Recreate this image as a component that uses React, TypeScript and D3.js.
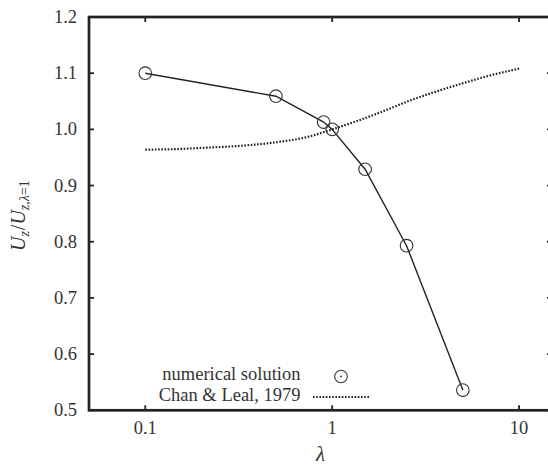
import React from "react";
import * as d3 from "d3";

// Numerical solution: normalised rise velocity vs viscosity ratio
const lambdaNum = [0.1, 0.5, 0.9, 1.0, 1.5, 2.5, 5];
const uNum = [1.1, 1.059, 1.013, 1.0, 0.929, 0.793, 0.536];

// Chan & Leal (1979) small-deformation theory
const lambdaChan = [0.1, 0.15, 0.2, 0.3, 0.5, 0.75, 1, 1.5, 2, 2.5, 3.5, 5, 7, 10];
const uChan = [0.964, 0.965, 0.967, 0.97, 0.977, 0.987, 1.0, 1.02, 1.036, 1.049, 1.066, 1.082, 1.096, 1.108];

const xTicks = [0.1, 1, 10];
const xTickLabels = ["0.1", "1", "10"];
const yTicks = [0.5, 0.6, 0.7, 0.8, 0.9, 1.0, 1.1, 1.2];

const W = 548;
const H = 466;
const left = 89;
const right = 552;
const top = 17;
const bottom = 410.3;

const FONT = "Liberation Serif";
const INK = "#222";
const TEXT = "#333";
const FS = 18.5;
const LEGEND_FS = 18.5;

const txt: React.CSSProperties = { fontFamily: FONT };

export default function App() {
  const x = d3.scaleLog().domain([0.05, 15]).range([left, right]);
  const y = d3.scaleLinear().domain([0.5, 1.2]).range([bottom, top]);

  const numLine = d3
    .line<number>()
    .x((_, i) => x(lambdaNum[i]))
    .y((d) => y(d));
  const chanLine = d3
    .line<number>()
    .x((_, i) => x(lambdaChan[i]))
    .y((d) => y(d))
    .curve(d3.curveMonotoneX);

  const tickLen = 5;
  const r = 6.3;

  return (
    <svg
      width={W}
      height={H}
      style={{ position: "absolute", left: 0, top: 0, background: "#fff" }}
    >
      <defs>
        <clipPath id="plotArea">
          <rect x={left} y={top} width={right - left} height={bottom - top} />
        </clipPath>
      </defs>

      {/* ticks on all four sides, pointing inward */}
      {xTicks.map((t) => (
        <g key={"xt" + t} stroke={INK} strokeWidth={1.8}>
          <line x1={x(t)} x2={x(t)} y1={bottom} y2={bottom - tickLen} />
          <line x1={x(t)} x2={x(t)} y1={top} y2={top + tickLen} />
        </g>
      ))}
      {yTicks.map((t) => (
        <g key={"yt" + t} stroke={INK} strokeWidth={1.8}>
          <line x1={left} x2={left + tickLen} y1={y(t)} y2={y(t)} />
          <line x1={right} x2={right - tickLen} y1={y(t)} y2={y(t)} />
        </g>
      ))}

      {/* tick labels */}
      {xTicks.map((t, i) => (
        <text
          key={"xl" + t}
          x={x(t)}
          y={434}
          textAnchor="middle"
          fontSize={FS}
          fill={TEXT}
          style={txt}
        >
          {xTickLabels[i]}
        </text>
      ))}
      {yTicks.map((t) => (
        <text
          key={"yl" + t}
          x={77}
          y={y(t) + 6}
          textAnchor="end"
          fontSize={FS}
          fill={TEXT}
          style={txt}
        >
          {t.toFixed(1)}
        </text>
      ))}

      {/* axis titles */}
      <text
        x={(left + right) / 2}
        y={461}
        textAnchor="middle"
        fontSize={21}
        fontStyle="italic"
        fill={TEXT}
        style={txt}
      >
        λ
      </text>
      <text
        transform={`translate(25,${(top + bottom) / 2 + 2}) rotate(-90)`}
        textAnchor="middle"
        fontSize={20}
        fill={TEXT}
        style={txt}
      >
        <tspan fontStyle="italic">U</tspan>
        <tspan fontStyle="italic" fontSize={14} dy={4}>z</tspan>
        <tspan dy={-4} dx={1}>/</tspan>
        <tspan fontStyle="italic">U</tspan>
        <tspan fontSize={14} dy={4}>
          <tspan fontStyle="italic">z</tspan>,<tspan fontStyle="italic">λ</tspan>=1
        </tspan>
      </text>

      {/* series */}
      <g clipPath="url(#plotArea)">
        <path
          d={chanLine(uChan) || ""}
          fill="none"
          stroke={INK}
          strokeWidth={2.2}
          strokeDasharray="1.6 1.6"
        />
        <path d={numLine(uNum) || ""} fill="none" stroke={INK} strokeWidth={1.4} />
        {uNum.map((v, i) => (
          <circle
            key={"p" + i}
            cx={x(lambdaNum[i])}
            cy={y(v)}
            r={r}
            fill="none"
            stroke="#333"
            strokeWidth={1.1}
          />
        ))}
      </g>

      {/* legend */}
      <text x={300.5} y={379.5} textAnchor="end" fontSize={LEGEND_FS} fill={TEXT} style={txt}>
        numerical solution
      </text>
      <circle cx={341} cy={376.5} r={r} fill="none" stroke="#333" strokeWidth={1.1} />
      <circle cx={341} cy={376.5} r={0.9} fill="#333" />
      <text x={300.5} y={401} textAnchor="end" fontSize={LEGEND_FS} fill={TEXT} style={txt}>
        Chan &amp; Leal, 1979
      </text>
      <line
        x1={313}
        x2={369.5}
        y1={397}
        y2={397}
        stroke={INK}
        strokeWidth={2.2}
        strokeDasharray="1.6 1.6"
      />

      {/* frame */}
      <rect
        x={left}
        y={top}
        width={right - left}
        height={bottom - top}
        fill="none"
        stroke={INK}
        strokeWidth={2.7}
      />
    </svg>
  );
}
